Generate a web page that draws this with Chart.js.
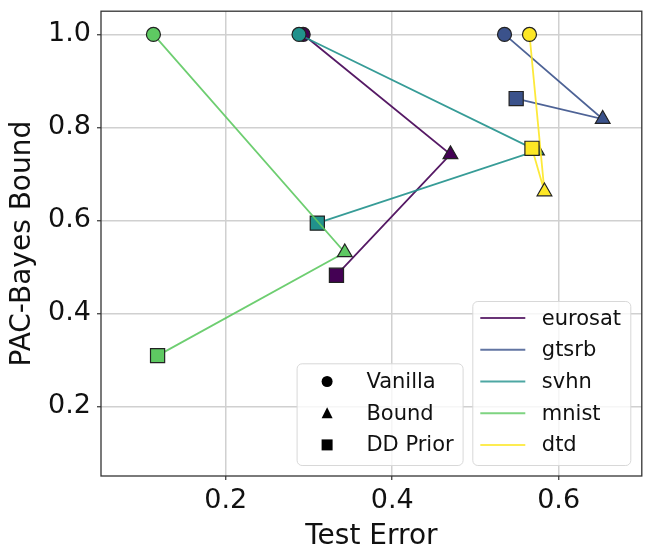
<!DOCTYPE html>
<html>
<head>
<meta charset="utf-8">
<script src="https://cdn.jsdelivr.net/npm/chart.js@4.4.1/dist/chart.umd.min.js"></script>
<style>
  html, body { margin: 0; padding: 0; background: #fff; }
  #wrap { width: 653px; height: 554px; }
</style>
</head>
<body>
<div id="wrap"><canvas id="pacChart" width="653" height="554"></canvas></div>
<script>
// data: Vanilla -> Bound -> DD Prior per dataset
const datasetNames = ["eurosat", "gtsrb", "svhn", "mnist", "dtd"];
const methods = ["Vanilla", "Bound", "DD Prior"];

const eurosatErr = [0.293, 0.470, 0.333];
const eurosatBound = [1.0, 0.742, 0.482];
const gtsrbErr = [0.535, 0.653, 0.549];
const gtsrbBound = [1.0, 0.818, 0.862];
const svhnErr = [0.288, 0.574, 0.310];
const svhnBound = [1.0, 0.750, 0.594];
const mnistErr = [0.113, 0.343, 0.118];
const mnistBound = [1.0, 0.531, 0.309];
const dtdErr = [0.565, 0.583, 0.568];
const dtdBound = [1.0, 0.662, 0.755];

const xTicks = [0.2, 0.4, 0.6];
const yTicks = [0.2, 0.4, 0.6, 0.8, 1.0];

const errs = [eurosatErr, gtsrbErr, svhnErr, mnistErr, dtdErr];
const bounds = [eurosatBound, gtsrbBound, svhnBound, mnistBound, dtdBound];

// viridis, 5 samples
const colors = ["#440154", "#3b528b", "#21918c", "#5ec962", "#fde725"];
const markerStyles = ["circle", "triangle", "rect"];
const markerRadius = [7, 8.5, 10];
const FONT = "'DejaVu Sans', sans-serif";

function withAlpha(hex, a){
    const n = parseInt(hex.slice(1), 16);
    return `rgba(${(n >> 16) & 255},${(n >> 8) & 255},${n & 255},${a})`;
}

const chartDatasets = datasetNames.map((name, i) => ({
    label: name,
    data: errs[i].map((x, j) => ({ x: x, y: bounds[i][j] })),
    showLine: true,
    borderColor: withAlpha(colors[i], 0.9),
    borderWidth: 1.8,
    tension: 0,
    pointStyle: markerStyles,
    pointRadius: markerRadius,
    pointBackgroundColor: colors[i],
    pointBorderColor: "#222",
    pointBorderWidth: 1.2,
    order: datasetNames.length - i
}));

function roundRect(ctx, x, y, w, h, r){
    ctx.beginPath();
    ctx.moveTo(x + r, y);
    ctx.lineTo(x + w - r, y);
    ctx.arcTo(x + w, y, x + w, y + r, r);
    ctx.lineTo(x + w, y + h - r);
    ctx.arcTo(x + w, y + h, x + w - r, y + h, r);
    ctx.lineTo(x + r, y + h);
    ctx.arcTo(x, y + h, x, y + h - r, r);
    ctx.lineTo(x, y + r);
    ctx.arcTo(x, y, x + r, y, r);
    ctx.closePath();
}

function drawMarker(ctx, style, x, y){
    ctx.beginPath();
    if (style === "circle") {
        ctx.arc(x, y, 5.5, 0, Math.PI * 2);
    } else if (style === "triangle") {
        ctx.moveTo(x, y - 6);
        ctx.lineTo(x + 5.5, y + 5);
        ctx.lineTo(x - 5.5, y + 5);
        ctx.closePath();
    } else {
        ctx.rect(x - 5.5, y - 5.5, 11, 11);
    }
    ctx.fill();
}

const framePlugin = {
    id: "frameAndLegends",
    afterDatasetsDraw(chart){
        const {ctx, chartArea: a} = chart;
        ctx.save();
        ctx.strokeStyle = "#333";
        ctx.lineWidth = 1.3;
        ctx.strokeRect(a.left, a.top, a.right - a.left, a.bottom - a.top);
        ctx.restore();
    },
    afterDraw(chart){
        const {ctx, chartArea: a} = chart;
        ctx.save();
        ctx.font = "21px " + FONT;
        ctx.textBaseline = "middle";
        ctx.textAlign = "left";

        // dataset legend (lines)
        const w2 = 158, h2 = 164;
        const l2 = a.right - 11 - w2, t2 = a.bottom - 10.5 - h2;
        roundRect(ctx, l2, t2, w2, h2, 5);
        ctx.fillStyle = "rgba(255,255,255,0.8)";
        ctx.fill();
        ctx.strokeStyle = "#d8d8d8";
        ctx.lineWidth = 1;
        ctx.stroke();
        datasetNames.forEach((name, i) => {
            const y = t2 + 16.6 + i * 31.7;
            ctx.strokeStyle = withAlpha(colors[i], 0.8);
            ctx.lineWidth = 2;
            ctx.beginPath();
            ctx.moveTo(l2 + 7.5, y);
            ctx.lineTo(l2 + 52.5, y);
            ctx.stroke();
            ctx.fillStyle = "#111";
            ctx.fillText(name, l2 + 69, y + 1);
        });

        // marker legend
        const w1 = 166, h1 = 101.7;
        const l1 = l2 - 9.7 - w1, t1 = a.bottom - 10.5 - h1;
        roundRect(ctx, l1, t1, w1, h1, 5);
        ctx.fillStyle = "rgba(255,255,255,0.8)";
        ctx.fill();
        ctx.strokeStyle = "#d8d8d8";
        ctx.lineWidth = 1;
        ctx.stroke();
        methods.forEach((m, i) => {
            const y = t1 + 17.7 + i * 31.7;
            ctx.fillStyle = "#000";
            drawMarker(ctx, markerStyles[i], l1 + 30, y);
            ctx.fillStyle = "#111";
            ctx.fillText(m, l1 + 69.3, y + 1);
        });
        ctx.restore();
    }
};

function noPad(s){
    s.paddingLeft = 0;
    s.paddingRight = 0;
    s.paddingTop = 0;
    s.paddingBottom = 0;
}

new Chart(document.getElementById("pacChart").getContext("2d"), {
    type: "scatter",
    data: { datasets: chartDatasets },
    options: {
        responsive: false,
        animation: false,
        events: [],
        layout: { padding: { left: 0, top: 9, right: 11, bottom: 0 } },
        plugins: {
            legend: { display: false },
            tooltip: { enabled: false }
        },
        scales: {
            x: {
                type: "linear",
                min: 0.05,
                max: 0.70,
                afterBuildTicks: s => { s.ticks = xTicks.map(v => ({ value: v })); },
                afterFit: s => { s.height = 78; noPad(s); },
                border: { display: false },
                grid: { color: "#d0d0d0", lineWidth: 1.5, tickColor: "#333", tickLength: 4, tickWidth: 1.2 },
                ticks: { color: "#111", padding: 5, font: { family: FONT, size: 27 }, callback: v => v.toFixed(1) },
                title: { display: true, text: "Test Error", color: "#111", padding: { top: 0, bottom: 0 }, font: { family: FONT, size: 28 } }
            },
            y: {
                type: "linear",
                min: 0.05,
                max: 1.05,
                afterBuildTicks: s => { s.ticks = yTicks.map(v => ({ value: v })); },
                afterFit: s => { s.width = 101; noPad(s); },
                border: { display: false },
                grid: { color: "#d0d0d0", lineWidth: 1.5, tickColor: "#333", tickLength: 4, tickWidth: 1.2 },
                ticks: { color: "#111", padding: 6, font: { family: FONT, size: 27 }, callback: v => v.toFixed(1) },
                title: { display: true, text: "PAC-Bayes Bound", color: "#111", padding: { top: 6, bottom: 0 }, font: { family: FONT, size: 28 } }
            }
        }
    },
    plugins: [framePlugin]
});
</script>
</body>
</html>
